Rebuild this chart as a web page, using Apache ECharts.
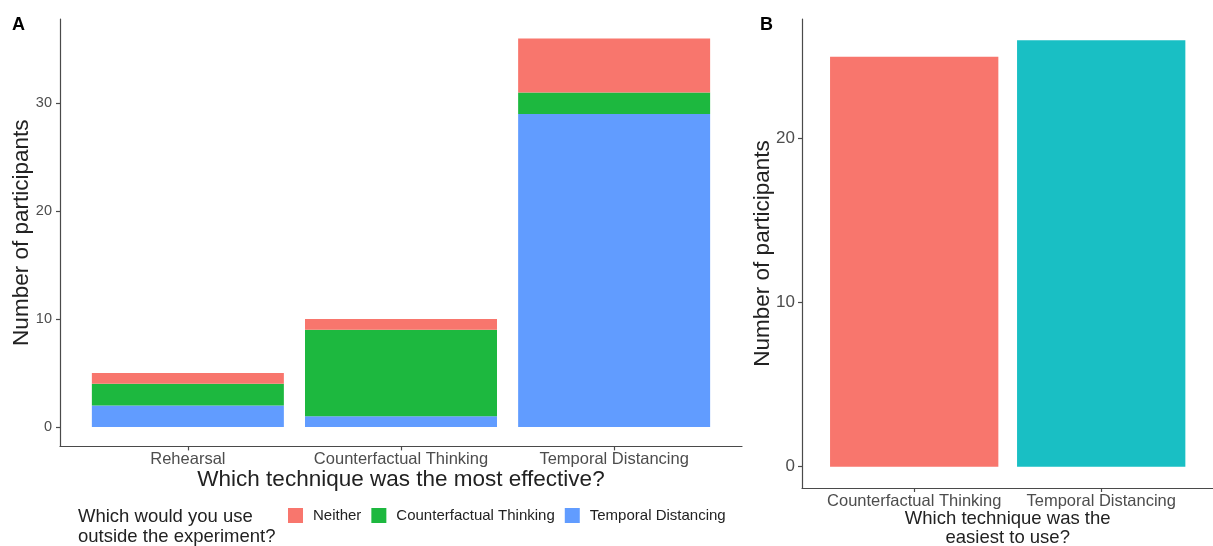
<!DOCTYPE html>
<html>
<head>
<meta charset="utf-8">
<script src="https://cdn.jsdelivr.net/npm/echarts@6/dist/echarts.min.js"></script>
<style>
html,body{margin:0;padding:0;background:#fff;}
#chart{width:1213px;height:546px;}
</style>
</head>
<body>
<div id="chart"></div>
<script>
// Panel A data
var categoriesA = ['Rehearsal', 'Counterfactual Thinking', 'Temporal Distancing'];
var seriesNamesA = ['Neither', 'Counterfactual Thinking', 'Temporal Distancing'];
var temporalA = [2, 1, 29];
var counterfactualA = [2, 8, 2];
var neitherA = [1, 1, 5];
var yTicksA = [0, 10, 20, 30];

// Panel B data
var categoriesB = ['Counterfactual Thinking', 'Temporal Distancing'];
var valuesB = [25, 26];
var yTicksB = [0, 10, 20];

var colorsA = {'Neither': '#F8766D', 'Counterfactual Thinking': '#1DB83F', 'Temporal Distancing': '#619CFF'};
var colorsB = ['#F8766D', '#19BFC4'];

var font = 'Liberation Sans, Arial, sans-serif';
var axisLineStyle = {color: '#4a4a4a', width: 1.2};

// axis-frame x axis (line only)
function frameX(gridIndex) {
  return {
    type: 'value', gridIndex: gridIndex, min: 0, max: 1,
    splitLine: {show: false},
    axisLine: {show: true, onZero: false, lineStyle: axisLineStyle},
    axisTick: {show: false}, axisLabel: {show: false}
  };
}
// category x axis for bars
function catX(gridIndex, cats, name, nameGap, nameSize, lineHeight) {
  return {
    type: 'category', gridIndex: gridIndex, data: cats,
    splitLine: {show: false},
    axisLine: {show: false, onZero: false},
    axisTick: {show: true, alignWithLabel: true, length: 4, lineStyle: axisLineStyle},
    axisLabel: {show: true, color: '#4D4D4D', fontSize: 16.5, fontFamily: font, margin: 5, interval: 0},
    name: name, nameLocation: 'middle', nameGap: nameGap, nameMoveOverlap: false,
    nameTextStyle: {color: '#222', fontSize: nameSize, fontFamily: font, lineHeight: lineHeight}
  };
}
function frameY(gridIndex, min, max, ticks, labelSize, margin, nameGap) {
  return {
    type: 'value', gridIndex: gridIndex, min: min, max: max,
    splitLine: {show: false},
    axisLine: {show: true, onZero: false, lineStyle: axisLineStyle},
    axisTick: {show: true, length: 4, lineStyle: axisLineStyle, customValues: ticks},
    axisLabel: {show: true, color: '#4D4D4D', fontSize: labelSize, fontFamily: font, margin: margin, customValues: ticks},
    name: 'Number of participants', nameLocation: 'middle', nameGap: nameGap, nameMoveOverlap: false,
    nameTextStyle: {color: '#222', fontSize: 22.5, fontFamily: font}
  };
}
function hiddenY(gridIndex, min, max) {
  return {type: 'value', gridIndex: gridIndex, min: min, max: max, show: false, splitLine: {show: false}};
}

var chart = echarts.init(document.getElementById('chart'), null, {renderer: 'canvas'});
var option = {
  backgroundColor: '#fff',
  animation: false,
  title: [
    {text: 'A', left: 7, top: 11, textStyle: {fontSize: 18, fontWeight: 'bold', color: '#000', fontFamily: font}},
    {text: 'B', left: 755, top: 11, textStyle: {fontSize: 18, fontWeight: 'bold', color: '#000', fontFamily: font}},
    {text: 'Which would you use\noutside the experiment?', left: 73, top: 502,
      textStyle: {fontSize: 18.5, fontWeight: 'normal', color: '#222', fontFamily: font, lineHeight: 20}}
  ],
  legend: {
    data: seriesNamesA, left: 283, top: 503, itemWidth: 15, itemHeight: 15, itemGap: 10, icon: 'rect',
    textStyle: {fontSize: 15, color: '#222', fontFamily: font, padding: [0, 0, 0, 5]}
  },
  grid: [
    {left: 60, top: 19, width: 682, height: 427.4, outerBoundsMode: 'none', containLabel: false},
    {left: 81.3, top: 19, width: 639.4, height: 427.4, outerBoundsMode: 'none', containLabel: false},
    {left: 802, top: 19, width: 411.4, height: 469, outerBoundsMode: 'none', containLabel: false},
    {left: 820.7, top: 19, width: 374, height: 469, outerBoundsMode: 'none', containLabel: false}
  ],
  xAxis: [
    frameX(0),
    catX(1, categoriesA, 'Which technique was the most effective?', 20, 22.5, 26),
    frameX(2),
    catX(3, categoriesB, 'Which technique was the\neasiest to use?', 21, 18.5, 19.5)
  ],
  yAxis: [
    frameY(0, -1.8, 37.8, yTicksA, 14.5, 8, 27),
    hiddenY(1, -1.8, 37.8),
    frameY(2, -1.3, 27.3, yTicksB, 17, 7, 28),
    hiddenY(3, -1.3, 27.3)
  ],
  series: [
    {name: 'Temporal Distancing', type: 'bar', stack: 'a', xAxisIndex: 1, yAxisIndex: 1, barWidth: 192,
      itemStyle: {color: colorsA['Temporal Distancing']}, data: temporalA},
    {name: 'Counterfactual Thinking', type: 'bar', stack: 'a', xAxisIndex: 1, yAxisIndex: 1, barWidth: 192,
      itemStyle: {color: colorsA['Counterfactual Thinking']}, data: counterfactualA},
    {name: 'Neither', type: 'bar', stack: 'a', xAxisIndex: 1, yAxisIndex: 1, barWidth: 192,
      itemStyle: {color: colorsA['Neither']}, data: neitherA},
    {name: 'Easiest', type: 'bar', xAxisIndex: 3, yAxisIndex: 3, barWidth: 168.3,
      data: valuesB.map(function (v, i) { return {value: v, itemStyle: {color: colorsB[i]}}; })}
  ]
};
chart.setOption(option);
</script>
</body>
</html>
